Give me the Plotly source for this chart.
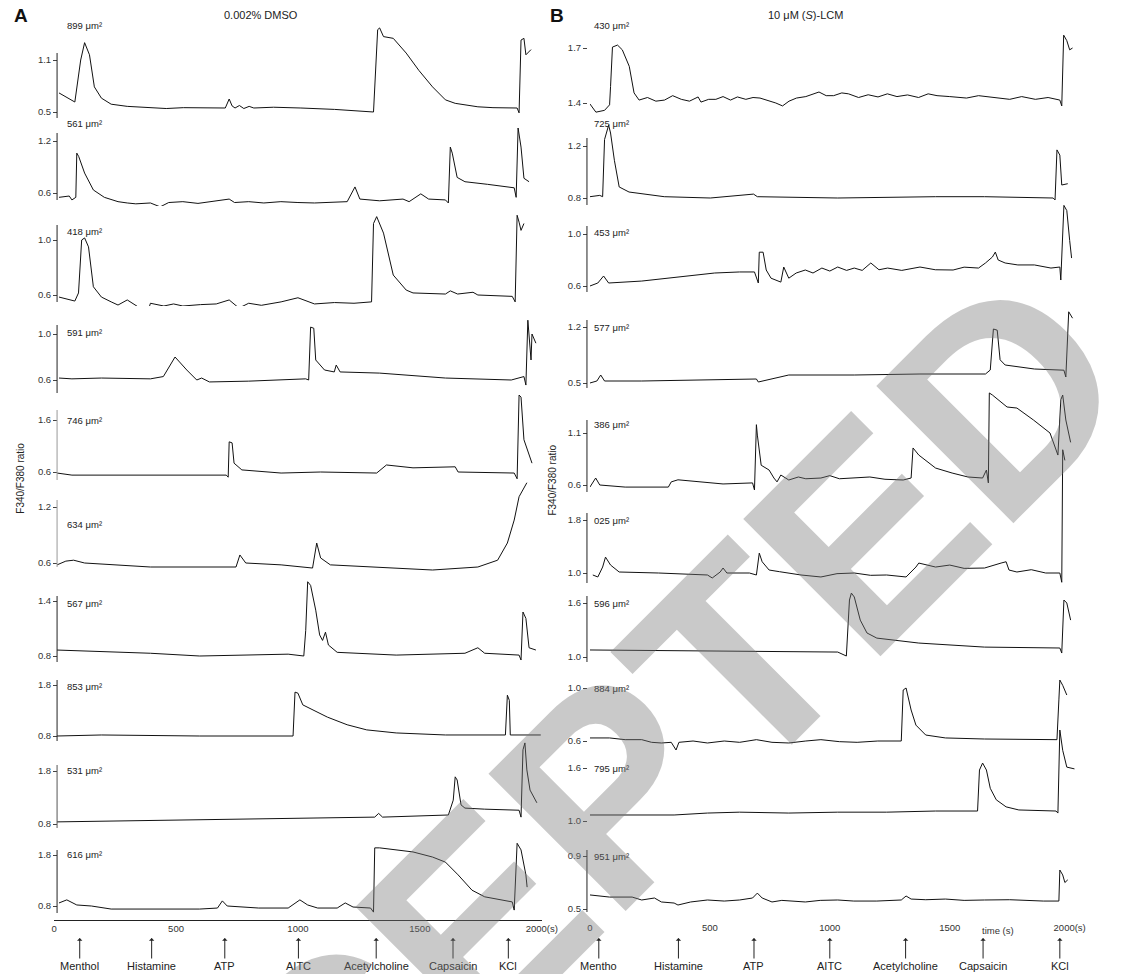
import plotly.graph_objects as go

W, H = 1125, 974

# ---------------- DATA ----------------
a1_t = [20,85,109,125,145,165,194,234,300,395,460,530,597,660,702,718,730,742,760,778,800,819,900,1012,1150,1310,1327,1335,1351,1391,1444,1496,1552,1605,1645,1738,1800,1899,1907,1915,1927,1935,1956]
a1_v = [0.72,0.615,1.10,1.30,1.16,0.79,0.66,0.59,0.565,0.555,0.54,0.55,0.546,0.546,0.546,0.65,0.57,0.546,0.575,0.54,0.565,0.546,0.555,0.546,0.53,0.50,1.45,1.47,1.37,1.35,1.18,0.98,0.79,0.64,0.60,0.56,0.55,0.546,0.49,1.33,1.35,1.16,1.22]
a2_t = [20,62,73,89,93,101,125,161,206,262,300,335,395,435,470,528,590,650,718,740,798,860,930,1000,1068,1202,1234,1254,1335,1431,1456,1504,1536,1605,1617,1625,1633,1653,1685,1778,1887,1895,1903,1915,1927,1948]
a2_v = [0.55,0.565,0.52,0.55,1.06,1.02,0.83,0.635,0.55,0.50,0.485,0.475,0.485,0.44,0.49,0.50,0.48,0.50,0.53,0.49,0.50,0.485,0.50,0.49,0.485,0.50,0.67,0.53,0.51,0.53,0.50,0.59,0.53,0.52,0.485,1.13,1.06,0.78,0.73,0.70,0.66,0.55,1.35,1.13,0.77,0.73]
a3_t = [20,85,100,113,125,141,161,194,234,262,300,343,383,395,450,490,528,600,665,718,758,798,850,931,1000,1068,1150,1230,1302,1310,1323,1351,1375,1391,1444,1472,1605,1625,1655,1718,1738,1879,1891,1899,1907,1915,1927]
a3_v = [0.585,0.556,0.615,1.0,1.015,0.95,0.66,0.585,0.55,0.527,0.564,0.51,0.47,0.54,0.52,0.535,0.52,0.53,0.535,0.564,0.505,0.54,0.525,0.55,0.58,0.535,0.545,0.54,0.55,1.12,1.17,1.05,0.855,0.745,0.636,0.615,0.607,0.63,0.607,0.62,0.60,0.59,0.55,1.18,1.13,1.07,1.12]
a4_t = [20,73,194,395,448,496,544,585,605,637,798,931,1032,1044,1052,1065,1073,1109,1149,1157,1173,1335,1605,1875,1927,1935,1943,1956,1960,1976]
a4_v = [0.617,0.61,0.617,0.61,0.63,0.80,0.687,0.60,0.617,0.583,0.59,0.60,0.61,0.60,1.06,1.05,0.774,0.687,0.67,0.73,0.67,0.66,0.617,0.60,0.63,0.556,1.12,0.774,1.0,0.92]
a5_t = [12,73,706,714,718,730,738,770,931,1093,1323,1363,1472,1645,1657,1887,1899,1907,1915,1927,1960]
a5_v = [0.58,0.54,0.54,0.50,1.18,1.16,0.77,0.64,0.58,0.60,0.58,0.735,0.68,0.70,0.60,0.58,0.47,2.08,2.04,1.22,0.77]
a6_t = [12,48,80,125,395,746,762,786,931,1060,1077,1093,1133,1403,1552,1738,1819,1859,1887,1907,1927,1939]
a6_v = [0.58,0.62,0.63,0.60,0.557,0.557,0.686,0.60,0.58,0.546,0.814,0.654,0.58,0.546,0.525,0.557,0.63,0.814,1.06,1.31,1.41,1.46]
a7_t = [12,153,395,597,960,1024,1032,1040,1052,1073,1089,1101,1113,1125,1161,1403,1685,1738,1766,1907,1915,1923,1935,1948,1976]
a7_v = [0.865,0.855,0.83,0.80,0.82,0.80,1.08,1.61,1.57,1.30,1.03,0.97,1.06,0.92,0.84,0.81,0.83,0.89,0.83,0.81,0.756,1.28,1.21,0.89,0.865]
a8_t = [12,194,597,980,988,1000,1020,1060,1121,1202,1282,1403,1605,1851,1859,1867,1871,1996]
a8_v = [0.80,0.82,0.80,0.80,1.66,1.64,1.41,1.31,1.17,1.02,0.92,0.86,0.82,0.82,1.60,1.50,0.82,0.82]
a9_t = [12,597,1315,1331,1347,1617,1637,1645,1653,1669,1685,1766,1907,1915,1923,1931,1939,1952,1980]
a9_v = [0.84,0.875,0.93,1.0,0.93,0.97,1.25,1.69,1.63,1.16,1.10,1.08,1.06,0.93,2.2,2.33,1.82,1.44,1.2]
a10_t = [20,52,93,153,234,597,670,690,710,839,960,1008,1040,1081,1161,1194,1226,1298,1310,1315,1335,1472,1552,1605,1657,1714,1766,1835,1879,1887,1899,1915,1935,1940]
a10_v = [0.86,0.92,0.82,0.80,0.74,0.74,0.76,0.90,0.80,0.76,0.76,0.92,0.82,0.76,0.76,0.86,0.78,0.76,0.68,1.94,1.94,1.86,1.76,1.66,1.41,1.11,0.98,0.92,0.88,0.72,2.03,1.90,1.41,1.17]

b1_t = [0,25,61,82,86,94,115,135,164,184,205,240,275,311,345,381,415,451,463,495,525,555,586,615,650,680,709,740,775,803,830,861,900,955,985,1016,1050,1078,1120,1160,1201,1240,1280,1324,1370,1410,1447,1500,1570,1620,1693,1750,1800,1857,1910,1959,1967,1975,1988,2000,2012]
b1_v = [1.395,1.35,1.36,1.39,1.49,1.705,1.716,1.69,1.60,1.455,1.416,1.43,1.41,1.416,1.44,1.42,1.41,1.433,1.405,1.42,1.42,1.435,1.416,1.433,1.42,1.43,1.427,1.415,1.40,1.384,1.41,1.427,1.435,1.46,1.44,1.44,1.455,1.45,1.43,1.445,1.433,1.45,1.435,1.444,1.43,1.45,1.44,1.435,1.427,1.44,1.43,1.42,1.435,1.42,1.43,1.416,1.384,1.77,1.74,1.69,1.70]
b2_t = [0,41,53,61,78,86,102,122,163,310,502,682,698,1033,1441,1645,1931,1939,1947,1959,1967,1992]
b2_v = [0.81,0.82,0.81,1.25,1.36,1.30,1.09,0.885,0.846,0.81,0.80,0.83,0.81,0.80,0.81,0.81,0.80,0.785,1.17,1.13,0.90,0.91]
b3_t = [0,33,57,78,216,300,433,520,624,686,702,706,722,735,755,796,808,829,860,898,930,967,1000,1033,1070,1102,1135,1171,1205,1241,1300,1376,1440,1514,1560,1620,1649,1678,1690,1702,1731,1784,1853,1922,1959,1963,1976,1988,2000,2008]
b3_v = [0.60,0.623,0.677,0.623,0.638,0.655,0.685,0.70,0.708,0.708,0.623,0.86,0.86,0.723,0.66,0.63,0.746,0.66,0.70,0.723,0.70,0.738,0.715,0.746,0.72,0.738,0.72,0.777,0.725,0.738,0.72,0.746,0.725,0.723,0.745,0.738,0.777,0.823,0.861,0.80,0.777,0.762,0.762,0.738,0.746,0.646,1.22,1.18,0.95,0.815]
b4_t = [0,29,45,61,216,420,694,702,829,1102,1376,1649,1669,1682,1698,1710,1731,1853,1976,1984,1996,2012]
b4_v = [0.50,0.525,0.60,0.525,0.525,0.5375,0.55,0.5125,0.60,0.60,0.6125,0.6125,0.6625,1.175,1.16,0.79,0.725,0.675,0.66,0.575,1.39,1.31]
b5_t = [0,24,41,147,327,339,367,555,678,686,694,698,714,747,767,780,796,829,869,900,963,1000,1040,1102,1167,1230,1306,1339,1347,1371,1441,1510,1576,1637,1653,1661,1665,1678,1739,1780,1849,1918,1951,1963,1971,1984,2004]
b5_v = [0.58,0.667,0.60,0.58,0.58,0.63,0.65,0.61,0.62,0.552,1.18,1.08,0.79,0.744,0.667,0.63,0.696,0.648,0.677,0.66,0.667,0.69,0.66,0.667,0.677,0.655,0.648,0.667,0.956,0.888,0.763,0.715,0.677,0.667,0.744,0.62,1.485,1.465,1.35,1.34,1.225,1.10,0.888,1.42,1.465,1.225,1.01]
b6_t = [12,33,41,53,65,86,122,286,490,510,543,555,571,665,694,706,718,747,790,829,880,963,1030,1102,1170,1237,1318,1359,1371,1441,1500,1560,1645,1714,1735,1747,1780,1840,1900,1959,1967,1971,1980]
b6_v = [0.97,0.94,1.0,1.09,1.24,1.12,1.015,1.0,0.97,0.925,1.015,1.075,1.0,1.0,0.97,1.30,1.17,1.045,1.02,1.0,0.97,0.94,0.99,1.0,0.965,0.97,0.94,1.09,1.15,1.09,1.12,1.07,1.075,1.15,1.17,1.045,1.015,1.05,1.0,1.0,0.86,2.86,2.7]
b7_t = [0,420,1033,1069,1082,1090,1102,1127,1155,1196,1371,1645,1959,1967,1976,1988,2004]
b7_v = [1.078,1.067,1.055,1.011,1.633,1.71,1.667,1.41,1.267,1.21,1.155,1.11,1.10,1.044,1.633,1.60,1.41]
b8_t = [0,82,147,216,257,298,339,359,371,430,490,560,624,694,759,829,900,963,1040,1114,1200,1298,1306,1318,1339,1359,1400,1482,1645,1947,1955,1959,1971,1988]
b8_v = [0.623,0.623,0.61,0.61,0.59,0.585,0.59,0.532,0.59,0.60,0.585,0.60,0.59,0.61,0.59,0.585,0.60,0.61,0.595,0.59,0.60,0.60,0.985,1.0,0.834,0.72,0.645,0.623,0.615,0.61,0.91,1.06,1.02,0.947]
b9_t = [0,351,490,624,829,1033,1237,1441,1616,1624,1637,1653,1669,1694,1735,1788,1943,1951,1959,1971,1988,2020]
b9_v = [1.068,1.068,1.09,1.10,1.09,1.10,1.10,1.113,1.113,1.577,1.656,1.577,1.37,1.24,1.16,1.125,1.113,1.09,2.03,1.80,1.61,1.59]
b10_t = [0,82,176,216,269,298,351,367,420,490,560,624,678,698,718,759,800,898,960,1033,1100,1196,1298,1318,1339,1400,1482,1560,1645,1750,1890,1955,1959,1971,1980,1992]
b10_v = [0.606,0.59,0.59,0.568,0.583,0.553,0.545,0.53,0.553,0.568,0.56,0.568,0.583,0.62,0.583,0.553,0.565,0.553,0.565,0.568,0.56,0.56,0.568,0.598,0.575,0.57,0.575,0.565,0.568,0.57,0.56,0.56,0.794,0.757,0.70,0.72]

A_AREAS = ["899 μm²", "561 μm²", "418 μm²", "591 μm²", "746 μm²", "634 μm²", "567 μm²", "853 μm²", "531 μm²", "616 μm²"]
B_AREAS = ["430 μm²", "725 μm²", "453 μm²", "577 μm²", "386 μm²", "025 μm²", "596 μm²", "884 μm²", "795 μm²", "951 μm²"]
A_TICKS = [(0.5, 1.1), (0.6, 1.2), (0.6, 1.0), (0.6, 1.0), (0.6, 1.6), (0.6, 1.2), (0.8, 1.4), (0.8, 1.8), (0.8, 1.8), (0.8, 1.8)]
B_TICKS = [(1.4, 1.7), (0.8, 1.2), (0.6, 1.0), (0.5, 1.2), (0.6, 1.1), (1.0, 1.8), (1.0, 1.6), (0.6, 1.0), (1.0, 1.6), (0.5, 0.9)]
STIMULI = ["Menthol", "Histamine", "ATP", "AITC", "Acetylcholine", "Capsaicin", "KCl"]
B_STIMULI = ["Mentho", "Histamine", "ATP", "AITC", "Acetylcholine", "Capsaicin", "KCl"]
A_STIM_T = [105, 400, 700, 1002, 1321, 1636, 1863]
B_STIM_T = [37, 369, 684, 1000, 1316, 1639, 1959]
X_TICKS = [0, 500, 1000, 1500, 2000]
X_TICKTEXT = ["0", "500", "1000", "1500", "2000(s)"]

A_T = [a1_t, a2_t, a3_t, a4_t, a5_t, a6_t, a7_t, a8_t, a9_t, a10_t]
A_V = [a1_v, a2_v, a3_v, a4_v, a5_v, a6_v, a7_v, a8_v, a9_v, a10_v]
B_T = [b1_t, b2_t, b3_t, b4_t, b5_t, b6_t, b7_t, b8_t, b9_t, b10_t]
B_V = [b1_v, b2_v, b3_v, b4_v, b5_v, b6_v, b7_v, b8_v, b9_v, b10_v]

# ---------------- LAYOUT (pixel geometry) ----------------
# per row: (px of high tick, px of low tick, domain top px, domain bottom px,
#           axis-line top, bottom, line colour or None, area-label px)
A_GEOM = [
    (60, 112, 18, 122, 53, 118, "#222", 25),
    (141, 193, 118, 206, 133, 200, "#222", 123),
    (240, 295, 205, 306, 225, 302, "#222", 231),
    (334, 380, 305, 396, 325, 393, "#222", 333),
    (420, 472, 388, 485, 410, 480, "#999", 420),
    (507, 563, 478, 572, 500, 567, "#999", 524),
    (601, 656, 575, 664, 596, 662, "#222", 603),
    (685, 736, 660, 744, 680, 741, "#222", 686),
    (771, 824, 740, 830, 765, 828, "#555", 770),
    (855, 906, 828, 918, 850, 913, "#222", 854),
]
B_GEOM = [
    (48, 103, 18, 116, None, None, None, 25),
    (146, 198, 112, 206, 138, 205, "#222", 123),
    (234, 286, 195, 296, 226, 292, "#222", 233),
    (327, 383, 300, 392, 320, 388, "#222", 327),
    (433, 485, 385, 495, 420, 492, "#222", 424),
    (520, 573, 440, 590, 513, 583, "#222", 520),
    (603, 657, 585, 666, 596, 662, "#222", 603),
    (688, 741, 670, 756, None, None, None, 688),
    (768, 821, 715, 830, None, None, None, 768),
    (856, 909, 840, 916, 850, 912, "#222", 856),
]
A_AX_X, B_AX_X = 55, 594
A_X0, A_X1, A_T1 = 52, 548, 2000
B_X0, B_X1 = 597, 1100
B_T1 = (B_X1 - B_X0) / 0.244


def fy(px):
    return 1 - px / H


def fx(px):
    return px / W


fig = go.Figure()
FONT = "Liberation Sans, Arial, sans-serif"
layout = dict(
    width=W, height=H, margin=dict(l=0, r=0, t=0, b=0), autosize=False,
    paper_bgcolor="white", plot_bgcolor="rgba(0,0,0,0)", showlegend=False,
    font=dict(family=FONT, color="#222", size=9),
)
shapes, annotations = [], []

AXFONT = dict(size=9.5, color="#333")


def note(text, x, y, size, xanchor="center", yanchor="middle", **kw):
    d = dict(text=text, x=fx(x), y=fy(y), xref="paper", yref="paper",
             xanchor=xanchor, yanchor=yanchor, showarrow=False,
             font=dict(size=size, color=kw.pop("color", "#222"), family=FONT))
    d.update(kw)
    return d


def add_panel(T, V, geoms, ticks, areas, xname, axis_px, yoff, label_x):
    for i in range(10):
        n = yoff + i + 1
        phi, plo, dtop, dbot, ltop, lbot, lcol, lab = geoms[i]
        vlo, vhi = ticks[i]
        slope = (vhi - vlo) / (plo - phi)
        r0 = vlo - (dbot - plo) * slope
        r1 = vhi + (phi - dtop) * slope
        yname = "yaxis" if n == 1 else f"yaxis{n}"
        layout[yname] = dict(
            domain=[fy(dbot), fy(dtop)], range=[r0, r1], anchor="free",
            position=fx(axis_px), showgrid=False, zeroline=False, showline=False,
            tickvals=[vlo, vhi], ticktext=[f"{vlo:.1f}", f"{vhi:.1f}"],
            ticks="outside", ticklen=4, tickwidth=1, tickcolor="#444",
            tickfont=AXFONT, fixedrange=True,
        )
        fig.add_trace(go.Scatter(
            x=T[i], y=V[i], mode="lines", xaxis=xname,
            yaxis="y" if n == 1 else f"y{n}",
            line=dict(color="#111", width=1), hoverinfo="skip",
        ))
        if lcol:
            shapes.append(dict(type="line", xref="paper", yref="paper",
                               x0=fx(axis_px), x1=fx(axis_px), y0=fy(lbot), y1=fy(ltop),
                               line=dict(color=lcol, width=1)))
        annotations.append(note(areas[i], label_x, lab, 9.5, xanchor="left"))


add_panel(A_T, A_V, A_GEOM, A_TICKS, A_AREAS, "x", A_AX_X, 0, 63)
add_panel(B_T, B_V, B_GEOM, B_TICKS, B_AREAS, "x2", B_AX_X, 10, 599)

layout["xaxis"] = dict(domain=[fx(A_X0), fx(A_X1)], range=[0, A_T1], anchor="free",
                       position=fy(920), showline=True, linecolor="#222", linewidth=1,
                       showgrid=False, zeroline=False, tickvals=X_TICKS, ticktext=X_TICKTEXT,
                       ticks="", tickfont=AXFONT, fixedrange=True)
layout["xaxis2"] = dict(domain=[fx(B_X0), fx(B_X1)], range=[0, B_T1], anchor="free",
                        position=fy(920), showline=False, showgrid=False, zeroline=False,
                        tickvals=X_TICKS, ticktext=X_TICKTEXT, ticks="", tickfont=AXFONT,
                        fixedrange=True)

# stimulus arrows
for xr, times, names in (("x", A_STIM_T, STIMULI), ("x2", B_STIM_T, B_STIMULI)):
    for t, name in zip(times, names):
        annotations.append(dict(text=name, x=t, xref=xr, y=fy(938), yref="paper",
                                showarrow=True, ax=0, ay=28, arrowhead=1, arrowsize=0.9,
                                arrowwidth=1, arrowcolor="#222", standoff=0,
                                xanchor="center", yanchor="middle",
                                font=dict(size=11, color="#222", family=FONT)))

# titles / labels
annotations += [
    note("<b>A</b>", 18, 15, 19, color="#111"),
    note("0.002% DMSO", 262, 15, 11),
    note("<b>B</b>", 564, 15, 19, color="#111"),
    note("10 μM (<i>S</i>)-LCM", 816, 15, 11),
    note("F340/F380 ratio", 17, 478, 10, textangle=-90),
    note("F340/F380 ratio", 558, 480, 10, textangle=-90),
    dict(text="time (s)", x=1700, xref="x2", y=fy(930), yref="paper",
         xanchor="center", yanchor="middle",
         showarrow=False, font=dict(size=9.5, color="#333", family=FONT)),
    # watermark
    note("<b>ACCEPTED</b>", 532, 872, 282, color="rgba(120,120,120,0.40)", textangle=-45),
]

layout["shapes"] = shapes
layout["annotations"] = annotations
fig.update_layout(**layout)
fig.write_html("out.html")
